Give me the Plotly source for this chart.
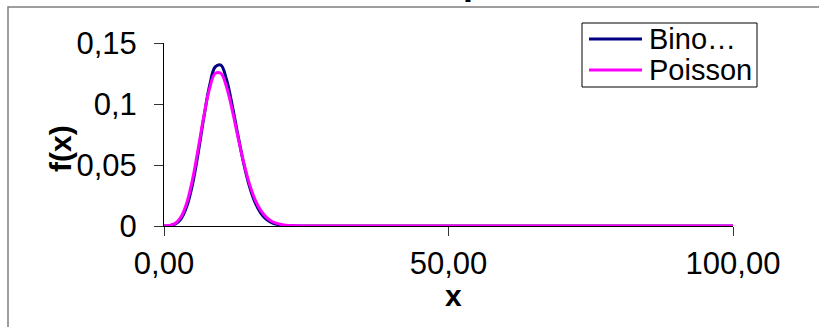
import plotly.graph_objects as go

# x = number of successes, n = 100, p = 0,1
K = list(range(101))

BINOMIAL = [
    0.0000, 0.0003, 0.0016, 0.0059, 0.0159, 0.0339, 0.0596, 0.0889, 0.1148, 0.1304,
    0.1319, 0.1199, 0.0988, 0.0743, 0.0513, 0.0327, 0.0193, 0.0106, 0.0054, 0.0026,
    0.0012, 0.0005, 0.0002, 0.0001, 0.0000, 0.0000, 0.0000, 0.0000, 0.0000, 0.0000,
    0.0000, 0.0000, 0.0000, 0.0000, 0.0000, 0.0000, 0.0000, 0.0000, 0.0000, 0.0000,
    0.0000, 0.0000, 0.0000, 0.0000, 0.0000, 0.0000, 0.0000, 0.0000, 0.0000, 0.0000,
    0.0000, 0.0000, 0.0000, 0.0000, 0.0000, 0.0000, 0.0000, 0.0000, 0.0000, 0.0000,
    0.0000, 0.0000, 0.0000, 0.0000, 0.0000, 0.0000, 0.0000, 0.0000, 0.0000, 0.0000,
    0.0000, 0.0000, 0.0000, 0.0000, 0.0000, 0.0000, 0.0000, 0.0000, 0.0000, 0.0000,
    0.0000, 0.0000, 0.0000, 0.0000, 0.0000, 0.0000, 0.0000, 0.0000, 0.0000, 0.0000,
    0.0000, 0.0000, 0.0000, 0.0000, 0.0000, 0.0000, 0.0000, 0.0000, 0.0000, 0.0000,
    0.0000,
]

POISSON = [
    0.0000, 0.0005, 0.0023, 0.0076, 0.0189, 0.0378, 0.0631, 0.0901, 0.1126, 0.1251,
    0.1251, 0.1137, 0.0948, 0.0729, 0.0521, 0.0347, 0.0217, 0.0128, 0.0071, 0.0037,
    0.0019, 0.0009, 0.0004, 0.0002, 0.0001, 0.0000, 0.0000, 0.0000, 0.0000, 0.0000,
    0.0000, 0.0000, 0.0000, 0.0000, 0.0000, 0.0000, 0.0000, 0.0000, 0.0000, 0.0000,
    0.0000, 0.0000, 0.0000, 0.0000, 0.0000, 0.0000, 0.0000, 0.0000, 0.0000, 0.0000,
    0.0000, 0.0000, 0.0000, 0.0000, 0.0000, 0.0000, 0.0000, 0.0000, 0.0000, 0.0000,
    0.0000, 0.0000, 0.0000, 0.0000, 0.0000, 0.0000, 0.0000, 0.0000, 0.0000, 0.0000,
    0.0000, 0.0000, 0.0000, 0.0000, 0.0000, 0.0000, 0.0000, 0.0000, 0.0000, 0.0000,
    0.0000, 0.0000, 0.0000, 0.0000, 0.0000, 0.0000, 0.0000, 0.0000, 0.0000, 0.0000,
    0.0000, 0.0000, 0.0000, 0.0000, 0.0000, 0.0000, 0.0000, 0.0000, 0.0000, 0.0000,
    0.0000,
]

SERIES_NAMES = ["Bino…", "Poisson"]
SERIES_COLORS = ["#000080", "#FF00FF"]
X_TICKS = [0, 50, 100]
Y_TICKS = [0, 0.05, 0.1, 0.15]

FONT = "Arial, Liberation Sans, sans-serif"

# plot area in pixels: x 164..733, y 43..226
L, R, T, B = 164, 733, 43, 226
W, H = R - L, B - T


def px(x):
    return (x - L) / W


def py(y):
    return (B - y) / H


fig = go.Figure()
for name, vals, color in zip(SERIES_NAMES, [BINOMIAL, POISSON], SERIES_COLORS):
    fig.add_trace(go.Scatter(x=K, y=vals, name=name, mode="lines",
                             line=dict(color=color, width=3, shape="spline")))

axis_common = dict(showgrid=False, zeroline=False, showline=True, linecolor="black",
                   linewidth=1, ticks="outside", ticklen=9, tickcolor="#333",
                   tickfont=dict(family=FONT, size=31, color="black"))
fig.update_xaxes(range=[0, 100], tickvals=X_TICKS, tickformat=".2f",
                 ticklabelstandoff=1, **axis_common)
fig.update_yaxes(range=[0, 0.15], tickvals=Y_TICKS, ticklabelstandoff=11,
                 **axis_common)

# outer chart-area frame (clipped by the window on the right and bottom)
fig.add_shape(type="rect", xref="paper", yref="paper",
              x0=px(8), x1=px(840), y0=py(345), y1=py(7),
              line=dict(color="#7f7f7f", width=1.5))

# legend box drawn by hand to match the tight Excel layout
fig.add_shape(type="rect", xref="paper", yref="paper",
              x0=px(582), x1=px(757), y0=py(87), y1=py(23),
              fillcolor="white", line=dict(color="black", width=1))
for i, (name, color) in enumerate(zip(SERIES_NAMES, SERIES_COLORS)):
    yy = 39 + 31 * i
    fig.add_shape(type="line", xref="paper", yref="paper",
                  x0=px(589), x1=px(642), y0=py(yy), y1=py(yy),
                  line=dict(color=color, width=3))
    fig.add_annotation(text=name, x=px(647), y=py(yy), xref="paper", yref="paper",
                       xanchor="left", yanchor="middle", showarrow=False,
                       font=dict(family=FONT, size=29, color="black"))

# axis titles
fig.add_annotation(text="<b>f(x)</b>", x=px(60), y=py(148), xref="paper", yref="paper",
                   xanchor="center", yanchor="middle", textangle=-90, showarrow=False,
                   font=dict(family=FONT, size=30, color="black"))
fig.add_annotation(text="<b>x</b>", x=px(453), y=py(295), xref="paper", yref="paper",
                   xanchor="center", yanchor="middle", showarrow=False,
                   font=dict(family=FONT, size=30, color="black"))
# chart title, almost entirely above the visible window
fig.add_annotation(text="<b>Binomial: p=0,1</b>", x=px(287), y=py(-19), xref="paper",
                   yref="paper", xanchor="left", yanchor="middle", showarrow=False,
                   font=dict(family=FONT, size=36, color="black"))

fig.update_layout(
    width=819, height=327,
    margin=dict(l=L, r=819 - R, t=T, b=327 - B),
    paper_bgcolor="white", plot_bgcolor="white",
    separators=",.",
    showlegend=False,
)

fig.write_html("out.html", config={"displayModeBar": False},
               post_script="document.body.style.margin='0';")
